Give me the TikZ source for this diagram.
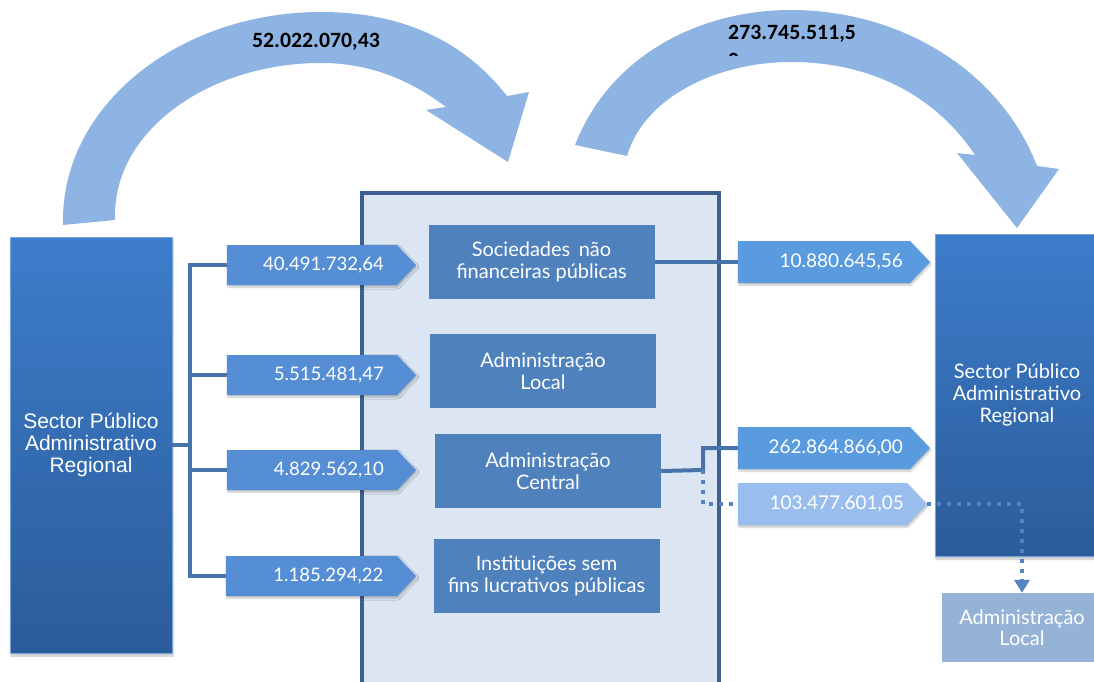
\documentclass[tikz,border=0pt]{standalone}
\usepackage{fontspec}
\setmainfont{Lato}
\newfontfamily\arialfont{Liberation Sans}
\newfontfamily\calfont{Carlito}
\usetikzlibrary{shapes.symbols,arrows.meta,shadows.blur}

\definecolor{flowblue}{HTML}{8EB4E3}
\definecolor{tagblue}{HTML}{558ED5}
\definecolor{tagbright}{HTML}{5A9BE0}
\definecolor{taglight}{HTML}{99BEEE}
\definecolor{unitblue}{HTML}{4F81BD}
\definecolor{linkblue}{HTML}{4773AB}
\definecolor{dotblue}{HTML}{5383C0}
\definecolor{panelfill}{HTML}{DCE6F2}
\definecolor{panelline}{HTML}{3D6090}
\definecolor{spatop}{HTML}{3D7DCB}
\definecolor{spabottom}{HTML}{2B5C9A}
\definecolor{localfill}{HTML}{95B3D7}

\tikzset{
  tag/.style={signal, signal to=east, signal pointer angle=93, fill=tagblue,
    minimum width=189pt, minimum height=40pt, inner sep=0pt,
    text=white, font=\fontsize{18.6}{20}\selectfont, text width=144pt, align=right,
    blur shadow={shadow xshift=1pt, shadow yshift=-2pt, shadow opacity=25, shadow blur steps=4}},
  unitbox/.style={fill=unitblue, minimum width=226pt, minimum height=74pt,
    text=white, align=center, font=\fontsize{20}{22}\selectfont},
  spabox/.style={top color=spatop, bottom color=spabottom, draw=spatop!70!white, line width=0.8pt,
    text=white, align=center,
    blur shadow={shadow xshift=1pt, shadow yshift=-3pt, shadow opacity=25, shadow blur steps=4}},
  link/.style={draw=linkblue, line width=4pt},
  dots/.style={draw=dotblue, line width=4pt, dash pattern=on 4pt off 6pt},
  flowtxt/.style={font=\calfont\bfseries\fontsize{21.8}{28}\selectfont, text=black}
}

\begin{document}
\begin{tikzpicture}[x=1pt,y=-1pt,line join=miter]
	\useasboundingbox (0,0) rectangle (1094,682);

	%grandes setas
	\fill[flowblue] (63,225) .. controls (60,105) and (180,12) .. (321,12)
		.. controls (420,12) and (475,55) .. (507,96)
		-- (529,92) -- (508,162) -- (426,110) -- (446,107)
		.. controls (410,80) and (370,63) .. (321,63)
		.. controls (210,63) and (112,130) .. (115,220) -- cycle;
	\fill[flowblue] (575,145) .. controls (610,55) and (700,10) .. (791,10)
		.. controls (900,10) and (1000,70) .. (1037,166)
		-- (1059,169) -- (1017,228) -- (957,153) -- (975,155)
		.. controls (935,95) and (870,62) .. (791,62)
		.. controls (720,62) and (645,95) .. (627,156) -- cycle;
	\node[flowtxt] (tA) at (316,42) {52.022.070,43};
	\begin{scope}
		\clip (700,0) rectangle (900,56);
		\node[flowtxt, anchor=north west, align=left, inner sep=0pt] (tB) at (728,25) {273.745.511,5\\0};
	\end{scope}

	%painel central
	\draw[panelline, fill=panelfill, line width=4.5pt] (362,700) -- (362,193) -- (719,193) -- (719,700);

	%sector publico (esquerda)
	\node[spabox, minimum width=162pt, minimum height=416pt, font=\arialfont\fontsize{21}{22}\selectfont] (spaL) at (91,445)
		{Sector Público\\Administrativo\\Regional};

	%subsectores
	\node[unitbox] (snf) at (541.5,262) {Sociedades\, não\\financeiras públicas};
	\node[unitbox] (alocal) at (543,371) {Administração\\Local};
	\node[unitbox] (acentral) at (548,471) {Administração\\Central};
	\node[unitbox] (isfl) at (546.5,576) {Instituições sem\\fins lucrativos públicas};

	%transferencias
	\node[tag] (vA) at (312,265) {40.491.732,64};
	\node[tag] (vB) at (312,375) {5.515.481,47};
	\node[tag] (vC) at (312,470) {4.829.562,10};
	\node[tag, minimum width=190pt] (vD) at (311.5,576) {1.185.294,22};

	\coordinate (bus) at (190,445);
	\draw[link] (spaL.east) -- (bus);
	\draw[link] (bus) |- (vA.west);
	\draw[link] (bus) |- (vB.west);
	\draw[link] (bus) |- (vC.west);
	\draw[link] (bus) |- (vD.west);

	%sector publico (direita)
	\node[spabox, minimum width=164pt, minimum height=322pt, font=\fontsize{20}{22}\selectfont] (spaR) at (1017,395)
		{Sector Público\\Administrativo\\Regional};
	\node[fill=localfill, minimum width=160pt, minimum height=69pt, text=white, align=center,
		font=\fontsize{20}{21}\selectfont] (alocR) at (1022,627.5) {Administração\\Local};

	\node[tag, fill=tagbright, minimum width=192pt, minimum height=42pt, text width=158pt,
		font=\fontsize{19}{20}\selectfont] (wA) at (824,262) {10.880.645,56};
	\node[tag, fill=tagbright, minimum width=192pt, minimum height=42pt, text width=158pt,
		font=\fontsize{19}{20}\selectfont] (wB) at (824,448) {262.864.866,00};
	\node[tag, fill=taglight, minimum width=189pt, minimum height=42pt, text width=163pt,
		font=\fontsize{19}{20}\selectfont] (wC) at (822.5,504) {103.477.601,05};

	\coordinate (split) at (703,470);
	\draw[link] (snf.east) -- (wA.west);
	\draw[link] (acentral.east) -- (split) |- (wB.west);
	\draw[dots] (split) |- (wC.west);
	\draw[dots, -{Triangle[width=15pt,length=13pt]}] (wC.east) -| (alocR.north);
\end{tikzpicture}
\end{document}
